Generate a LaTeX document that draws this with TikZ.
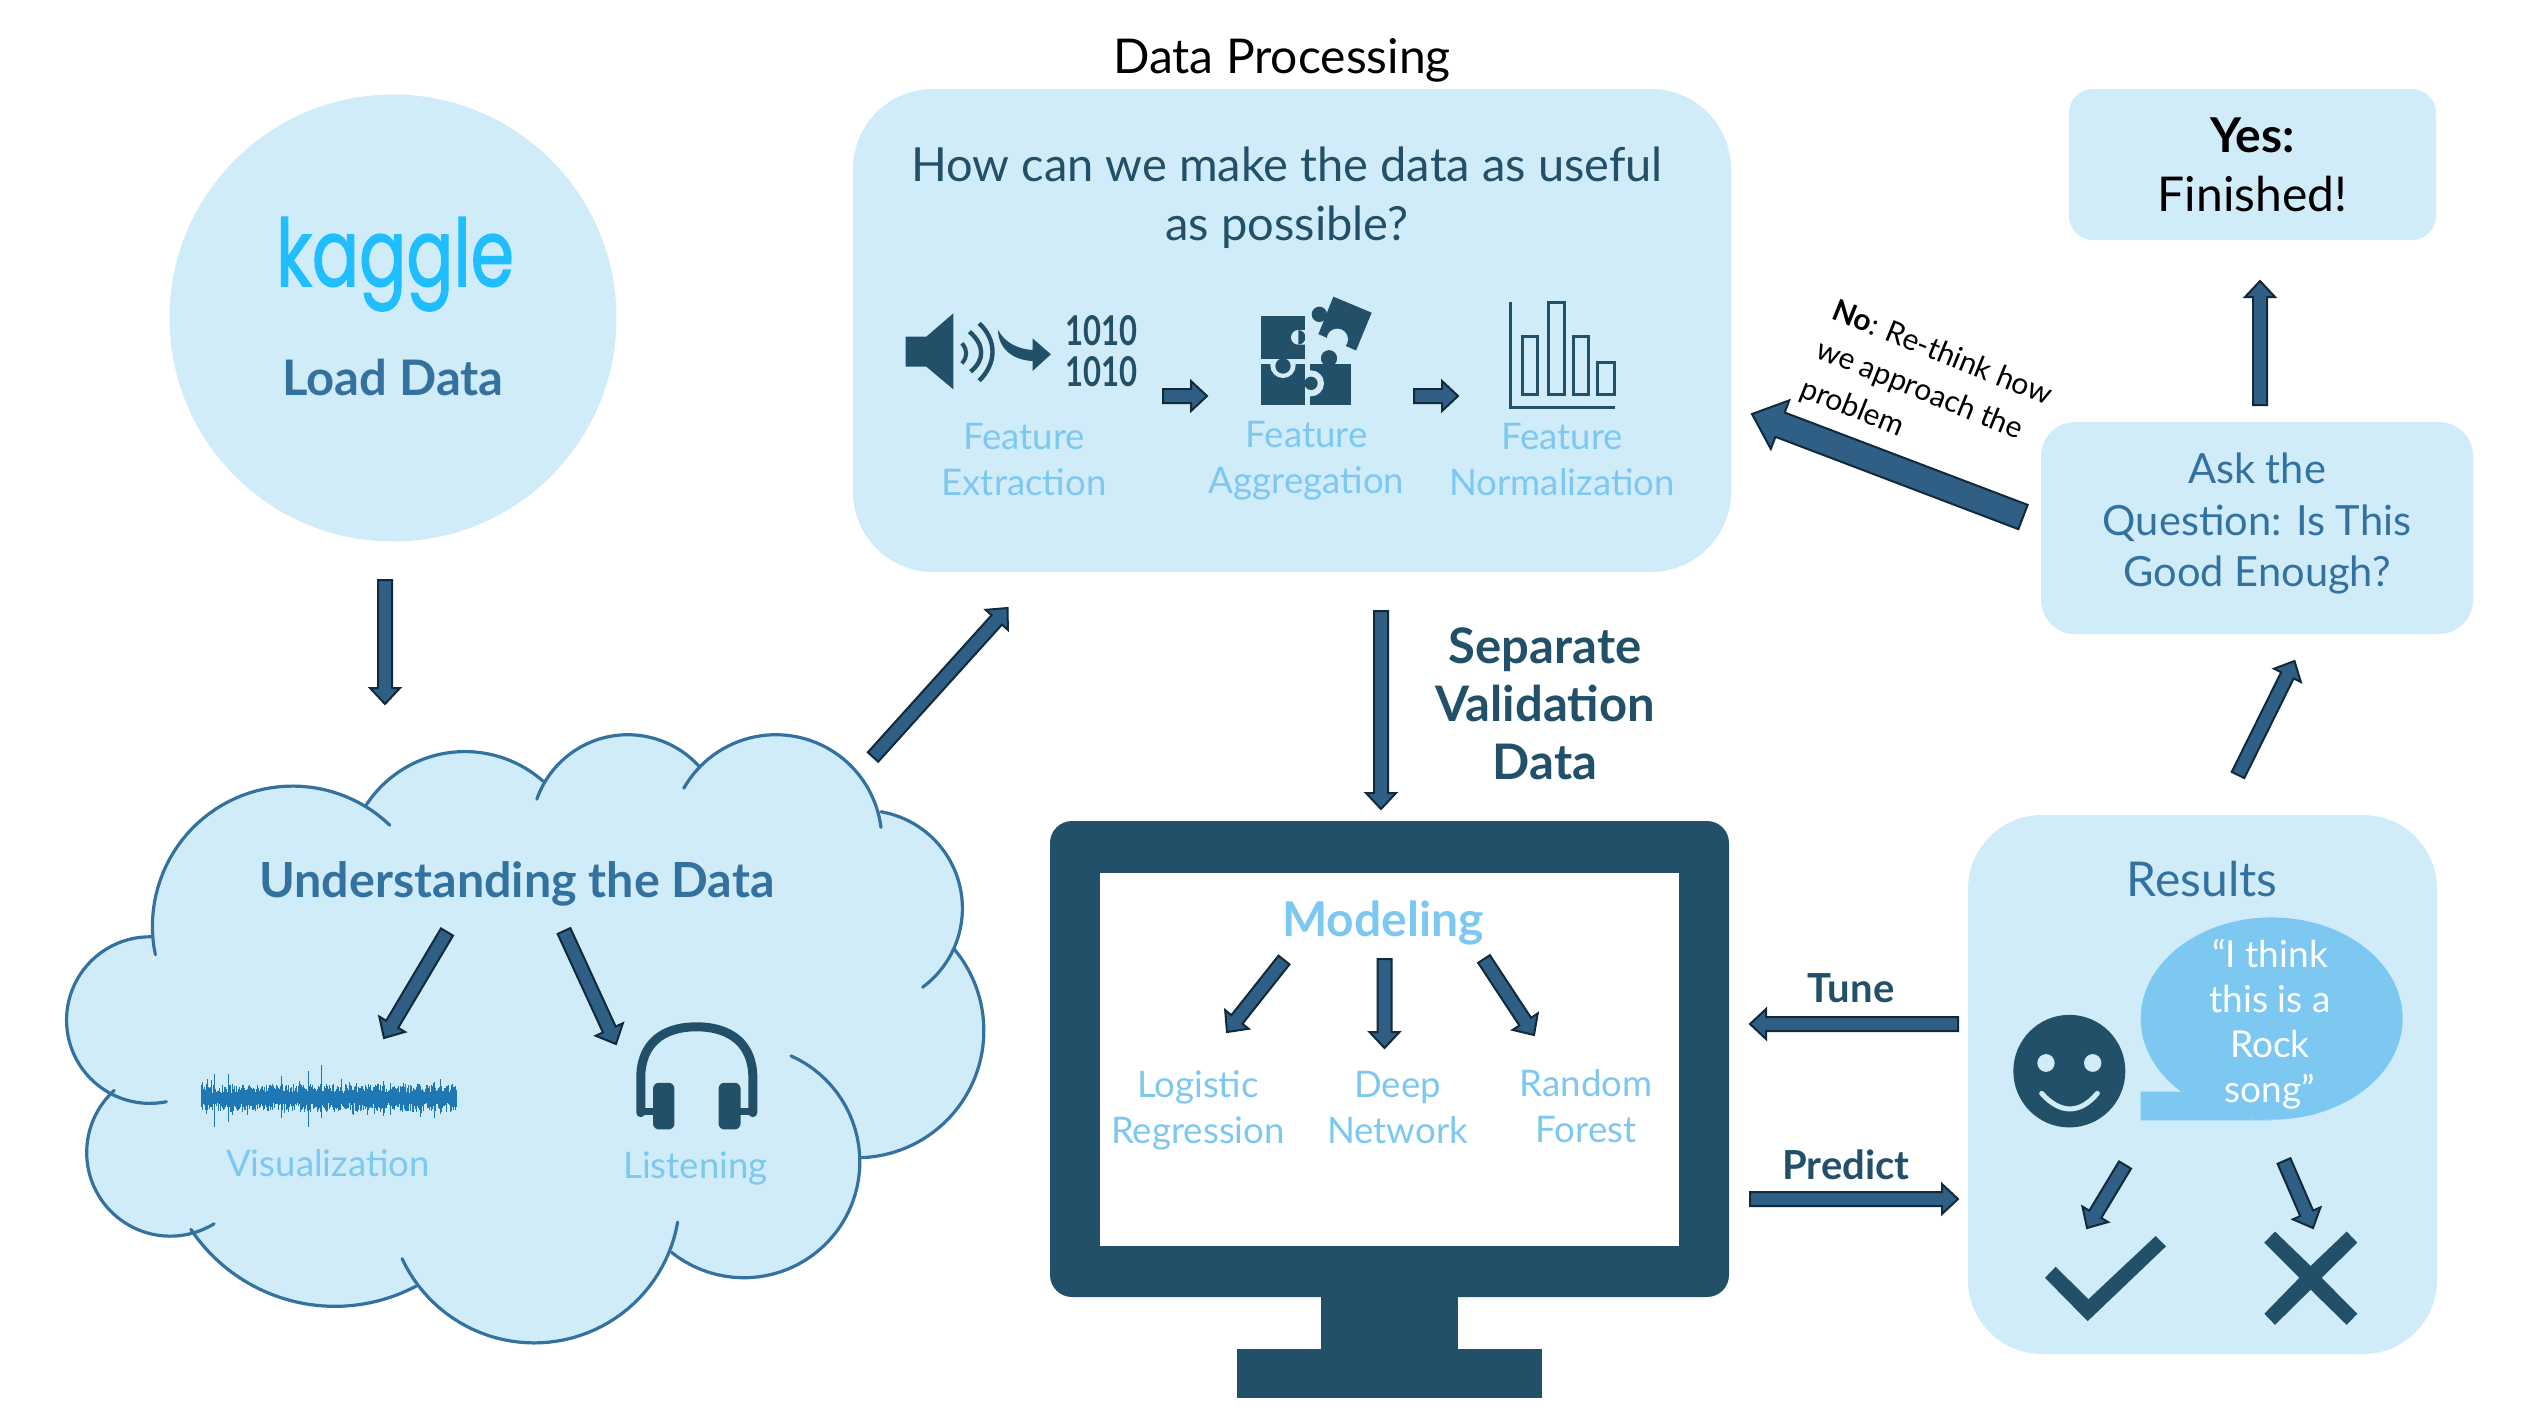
\documentclass[tikz,border=0pt]{standalone}
\usepackage{fontspec}
\setmainfont{Lato}
\newfontfamily\kagfont[FakeBold=1.6]{Poppins}
\usetikzlibrary{calc}
\definecolor{panelc}{HTML}{D1ECF9}
\definecolor{darkc}{HTML}{215068}
\definecolor{midc}{HTML}{33729E}
\definecolor{lightc}{HTML}{7DC8F0}
\definecolor{arrowf}{HTML}{2F5F85}
\definecolor{arrowd}{HTML}{10293B}
\definecolor{kagc}{HTML}{20BEFF}
\definecolor{wavec}{HTML}{1F77B4}
\newcommand\fs[2]{\fontsize{#1}{#2}\selectfont}
\newcommand\conn[5]{%
  \coordinate (cn) at ($(#2)!#5!(#1)$);
  \draw[blockarrow] ($(#1)!#3!90:(#2)$) -- ($(cn)!#3!90:(#2)$) -- ($(cn)!#4!90:(#2)$) -- (#2)
    -- ($(cn)!#4!-90:(#2)$) -- ($(cn)!#3!-90:(#2)$) -- ($(#1)!#3!-90:(#2)$) -- cycle;
}
\newcommand\sconn[2]{\conn{#1}{#2}{3.5pt}{7.5pt}{8pt}}
% circular arc through three points, given clockwise on screen in the crop coordinates of the cloud
\newcommand\bumparc[7]{%
  \pgfmathsetmacro\xa{(50+#2/1.633)/100}\pgfmathsetmacro\ya{(720+#3/2.376)/100}%
  \pgfmathsetmacro\xb{(50+#4/1.633)/100}\pgfmathsetmacro\yb{(720+#5/2.376)/100}%
  \pgfmathsetmacro\xc{(50+#6/1.633)/100}\pgfmathsetmacro\yc{(720+#7/2.376)/100}%
  \pgfmathsetmacro\dd{2*(\xa*(\yb-\yc)+\xb*(\yc-\ya)+\xc*(\ya-\yb))}%
  \pgfmathsetmacro\ux{((\xa*\xa+\ya*\ya)*(\yb-\yc)+(\xb*\xb+\yb*\yb)*(\yc-\ya)+(\xc*\xc+\yc*\yc)*(\ya-\yb))/\dd}%
  \pgfmathsetmacro\uy{((\xa*\xa+\ya*\ya)*(\xc-\xb)+(\xb*\xb+\yb*\yb)*(\xa-\xc)+(\xc*\xc+\yc*\yc)*(\xb-\xa))/\dd}%
  \pgfmathsetmacro\rr{veclen(\xa-\ux,\ya-\uy)}%
  \pgfmathsetmacro\aa{atan2(\ya-\uy,\xa-\ux)}%
  \pgfmathsetmacro\ac{atan2(\yc-\uy,\xc-\ux)}%
  \pgfmathsetmacro\aend{\ac<\aa?\ac+360:\ac}%
  \path[#1] plot[domain=\aa:\aend,samples=48,variable=\t] ({100*(\ux+\rr*cos(\t))},{100*(\uy+\rr*sin(\t))});
}
\newcommand\allbumps[1]{%
  \bumparc{#1}{172}{558}{290}{195}{555}{250}
  \bumparc{#1}{515}{205}{675}{75}{805}{145}
  \bumparc{#1}{795}{188}{940}{35}{1060}{110}
  \bumparc{#1}{1035}{162}{1190}{35}{1357}{255}
  \bumparc{#1}{1357}{218}{1490}{450}{1425}{635}
  \bumparc{#1}{1477}{545}{1525}{735}{1322}{1040}
  \bumparc{#1}{1210}{798}{1322}{1030}{1015}{1265}
  \bumparc{#1}{1025}{1193}{795}{1480}{575}{1280}
  \bumparc{#1}{598}{1345}{460}{1393}{230}{1210}
  \bumparc{#1}{268}{1197}{60}{1020}{105}{880}
  \bumparc{#1}{190}{907}{27}{715}{165}{515}
}
\tikzset{
  panel/.style={fill=panelc,draw=none,rectangle,inner sep=0pt},
  blockarrow/.style={fill=arrowf,draw=arrowd,line width=1pt,line join=miter},
  icon/.style={fill=darkc,draw=none},
  lbl/.style={align=center,inner sep=0pt,text=lightc,font=\fs{18.3}{23}},
  bump/.style={draw=midc,line width=1.6pt,line cap=round},
  bfill/.style={fill=panelc,draw=none},
}
\begin{document}
\begin{tikzpicture}[x=0.5pt,y=-0.5pt]
\useasboundingbox (0,0) rectangle (2548,1420);
\fill[white] (0,0) rectangle (2548,1420);

% ---------- Load data
\node[panel,circle,minimum size=223.5pt] (load) at (393,318) {};
\node[inner sep=0pt,text=kagc,anchor=base] (kaggle) at (395,286) {\resizebox{119pt}{34.5pt}{\kagfont kaggle}};
\node[inner sep=0pt,text=midc,font=\fs{24.5}{29}\bfseries] (loadt) at (393,377) {Load Data};

% ---------- Cloud
\begin{scope}[shift={(50,720)},x=0.5pt/1.633,y=-0.5pt/2.376]
\fill[bfill] (172,558)--(515,205)--(805,145)--(1060,110)--(1357,218)--(1477,545)--(1322,1040)--(1015,1265)--(598,1345)--(230,1210)--(105,880)--cycle;
\end{scope}
\allbumps{bfill}
\allbumps{bump}
\begin{scope}[shift={(50,720)},x=0.5pt/1.633,y=-0.5pt/2.376]
% waveform
\pgfmathsetseed{7}
\foreach \i in {248,249.4,...,665}{
  \pgfmathsetmacro\up{12+rnd*22+(rnd>0.85)*rnd*18}
  \pgfmathsetmacro\dn{12+rnd*22+(rnd>0.85)*rnd*14}
  \draw[wavec,line width=0.5pt] (\i,898-\up) -- (\i,898+\dn);
}
\fill[wavec] (248,887) rectangle (665,909);
\draw[wavec,line width=0.35pt] (268,840)--(268,968) (292,842)--(292,955) (378,845)--(378,945) (422,835)--(422,966) (444,820)--(444,945) (545,858)--(545,940) (628,860)--(628,945);
% headphones
\draw[darkc,line width=4.5pt,line cap=round] (965,933) -- (965,850) .. controls (965,770) and (1000,729) .. (1056,729) .. controls (1112,729) and (1148,770) .. (1148,850) -- (1148,933);
\fill[darkc,rounded corners=3pt] (985,862) rectangle (1020,973);
\fill[darkc,rounded corners=3pt] (1092,862) rectangle (1128,973);
\fill[darkc] (965,922) rectangle (987,938) (1126,922) rectangle (1148,938);
\end{scope}
\node[inner sep=0pt,text=midc,font=\fs{24.2}{29}\bfseries] (undt) at (517,884) {Understanding the Data};
\node[lbl] (vis) at (328,1163.5) {Visualization};
\node[lbl] (lis) at (695.5,1168) {Listening};

% ---------- Data processing panel
\node[inner sep=0pt,text=black,font=\fs{24}{29}] (dpt) at (1282,60) {Data Processing};
\node[panel,minimum width=439pt,minimum height=241.5pt,rounded corners=40pt] (dp) at (1292,330.5) {};
\node[inner sep=0pt,align=center,text=darkc,font=\fs{23.5}{29.5}] (dpq) at (1287,198) {How can we make the data as useful\\as possible?};
\node[lbl] (fe) at (1024,460) {Feature\\Extraction};
\node[lbl] (fa) at (1306.5,461) {Feature\\Aggregation};
\node[lbl] (fn) at (1562,460) {Feature\\Normalization};

\begin{scope}[shift={(850,260)},x=0.5pt/1.742,y=-0.5pt/3]
% speaker
\fill[icon] (97,230)--(133,230)--(180,160)--(180,388)--(133,320)--(97,320)--cycle;
\draw[darkc,line width=2pt] (195,250) .. controls (205,270) and (205,290) .. (195,310);
\draw[darkc,line width=2.2pt] (208,215) .. controls (235,255) and (235,300) .. (210,335);
\draw[darkc,line width=2.2pt] (225,190) .. controls (256,240) and (256,310) .. (225,362);
% curved arrow
\fill[icon] (258,210) .. controls (270,250) and (295,268) .. (318,270) -- (318,235) -- (350,283) -- (318,333) -- (318,303) .. controls (280,300) and (258,260) .. (258,210) -- cycle;
% bars
\draw[darkc,line width=1.6pt] (1150,125) -- (1150,442) -- (1333,442);
\draw[darkc,line width=1.5pt] (1172,228) rectangle (1198,404) (1216,128) rectangle (1244,404) (1260,228) rectangle (1287,404) (1303,307) rectangle (1332,404);
\end{scope}
% puzzle
\begin{scope}[shift={(1250,290)},x=0.5pt/3,y=-0.5pt/3]
\fill[icon] (33,77) rectangle (166,208);
\fill[panelc] (145,142) circle[radius=22] (145,120) rectangle (170,164);
\fill[icon] (33,223) rectangle (166,345);
\begin{scope}
 \clip (33,223) rectangle (166,345);
 \fill[panelc] (99,226) circle[radius=38];
\end{scope}
\begin{scope}
 \clip (33,208) rectangle (166,345);
 \fill[icon] (99,228) circle[radius=23];
\end{scope}
\fill[icon] (180,223) rectangle (302,345);
\begin{scope}
 \clip (180,223) rectangle (302,345);
 \fill[panelc] (183,280) circle[radius=39];
\end{scope}
\fill[icon] (183,280) circle[radius=20];
\fill[icon] (237,205) circle[radius=24];
\fill[icon] (250,20)--(365,68)--(318,182)--(205,133)--cycle;
\fill[panelc] (262,148) circle[radius=32];
\fill[panelc] (205,133)--(318,182)--(290,200)--(215,165)--cycle;
\fill[icon] (208,73) circle[radius=23];
\fill[icon] (237,205) circle[radius=24];
\fill[icon] (225,205) rectangle (250,224);
\end{scope}
\node[inner sep=0pt,text=darkc,font=\bfseries] (bin1) at (1101,331) {\resizebox{36pt}{15pt}{1010}};
\node[inner sep=0pt,text=darkc,font=\bfseries] (bin2) at (1101,372) {\resizebox{36pt}{15pt}{1010}};

% ---------- Monitor
\fill[darkc] (1321,1290) rectangle (1458,1351);
\fill[darkc] (1237,1349) rectangle (1542,1398);
\node[icon,rectangle,rounded corners=11pt,minimum width=339.5pt,minimum height=238pt,inner sep=0pt] (mon) at (1389.5,1059) {};
\node[fill=white,draw=none,rectangle,minimum width=289.5pt,minimum height=186.5pt,inner sep=0pt] (scr) at (1389.5,1059.5) {};
\node[inner sep=0pt,text=lightc,font=\fs{24}{29}\bfseries] (mod) at (1383,923) {Modeling};
\node[lbl] (lr) at (1198,1110) {Logistic\\Regression};
\node[lbl] (dn) at (1397.5,1108) {Deep\\Network};
\node[lbl] (rf) at (1586,1106) {Random\\Forest};
\node[inner sep=0pt,align=center,text=darkc,font=\fs{24.5}{29}\bfseries] (sep) at (1545,704) {Separate\\Validation\\Data};
\node[inner sep=0pt,text=darkc,font=\fs{20}{24}\bfseries] (tune) at (1851,988) {Tune};
\node[inner sep=0pt,text=darkc,font=\fs{20}{24}\bfseries] (pred) at (1846,1165) {Predict};

% ---------- Yes / Ask
\node[panel,minimum width=183.5pt,minimum height=75.5pt,rounded corners=12pt,align=center,text=black,font=\fs{24}{29.5}] (yes) at (2252.5,164.5) {\textbf{Yes:}\\Finished!};
\node[panel,minimum width=216pt,minimum height=106pt,rounded corners=17pt] (ask) at (2257,528) {};
\node[inner sep=0pt,align=center,text=midc,font=\fs{20.8}{25.8}] (askt) at (2257,523.5) {Ask the\\Question: Is This\\Good Enough?};
\node[inner sep=0pt,align=left,rotate=-22,text=black,font=\fs{15}{21}] (no) at (1926,393) {\textbf{No}: Re-think how\\we approach the\\problem};

% ---------- Results
\node[panel,minimum width=234.5pt,minimum height=269.5pt,rounded corners=37pt] (res) at (2202.5,1084.5) {};
\node[inner sep=0pt,text=midc,font=\fs{24}{28}] (rest) at (2202,879) {Results};
\begin{scope}[shift={(1950,800)},x=0.5pt/3,y=-0.5pt/2.7]
\fill[lightc] (965,590) circle[x radius=393,y radius=273];
\fill[lightc] (572,787)--(690,787)--(900,860)--(965,863)--(965,865)--(572,865)--cycle;
\fill[icon] (358,732) circle[x radius=168,y radius=152];
\fill[panelc] (288,710) circle[x radius=26,y radius=24] (428,710) circle[x radius=26,y radius=24];
\draw[panelc,line width=2.5pt,line cap=round] (275,792) .. controls (330,848) and (390,848) .. (442,792);
\fill[icon] (285,1290)--(317,1260)--(415,1348)--(617,1177)--(648,1205)--(413,1407)--cycle;
\fill[icon] (975,1165)--(1082,1258)--(1190,1165)--(1222,1195)--(1115,1290)--(1222,1387)--(1190,1417)--(1082,1322)--(975,1417)--(943,1387)--(1048,1290)--(943,1195)--cycle;
\end{scope}
\node[inner sep=0pt,align=center,text=white,font=\fs{18.5}{22.5}] (song) at (2270,1024) {“I think\\this is a\\Rock\\song”};

% ---------- Connectors
\coordinate (a1s) at (385,580);   \coordinate (a1e) at (385,704);
\coordinate (a2s) at (873,757);   \coordinate (a2e) at (1007.5,608);
\coordinate (a3s) at (1381,611);  \coordinate (a3e) at (1381,809);
\coordinate (a4s) at (2023,517);  \coordinate (a4e) at (1752,414);
\coordinate (a5s) at (2260,405);  \coordinate (a5e) at (2260,281);
\coordinate (a6s) at (2238,775);  \coordinate (a6e) at (2294.5,661);
\coordinate (a7s) at (1958,1024); \coordinate (a7e) at (1750,1024);
\coordinate (a8s) at (1750,1199); \coordinate (a8e) at (1958,1199);
\coordinate (a9s) at (447,932);   \coordinate (a9e) at (384,1038);
\coordinate (a10s) at (564,931);  \coordinate (a10e) at (616,1044);
\coordinate (a11s) at (1284,960); \coordinate (a11e) at (1227,1032);
\coordinate (a12s) at (1384.5,959); \coordinate (a12e) at (1384.5,1048);
\coordinate (a13s) at (1484,959); \coordinate (a13e) at (1534,1035);
\coordinate (a14s) at (1163,396); \coordinate (a14e) at (1207,396);
\coordinate (a15s) at (1414,396); \coordinate (a15e) at (1458,396);
\coordinate (a16s) at (2125,1165);\coordinate (a16e) at (2087,1228);
\coordinate (a17s) at (2284,1161);\coordinate (a17e) at (2313,1228);
\foreach \k in {1,2,3,5,6,7,8,9,10,11,12,13,14,15,16,17}{\sconn{a\k s}{a\k e}}
\conn{a4s}{a4e}{6.5pt}{13pt}{15pt}
\end{tikzpicture}
\end{document}
